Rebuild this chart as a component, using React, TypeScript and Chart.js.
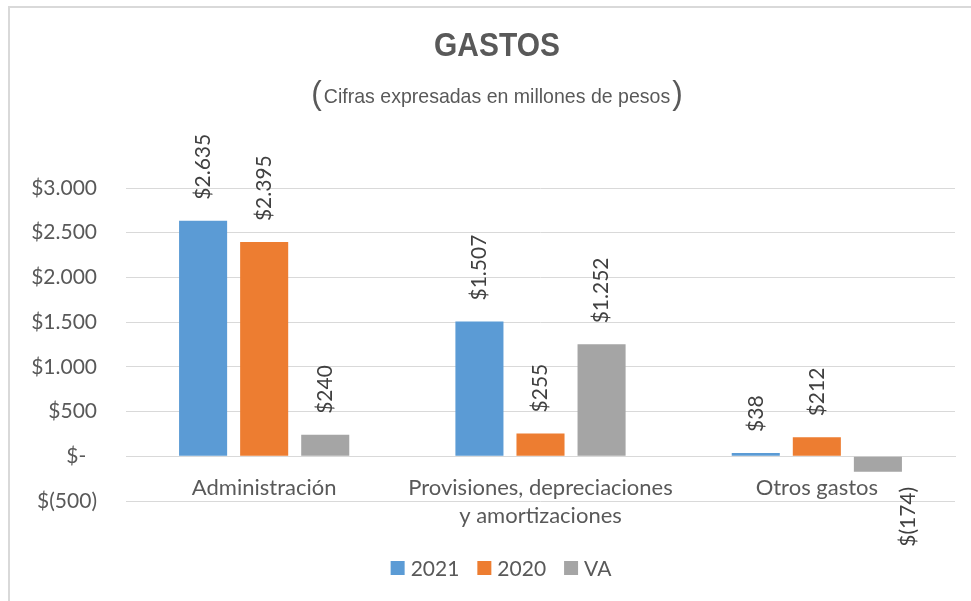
import React, { useEffect, useRef } from "react";
import { Chart, registerables } from "chart.js";

Chart.register(...registerables);

const TITLE = "GASTOS";
const SUBTITLE = "Cifras expresadas en millones de pesos";
const categories: (string | string[])[] = [
  "Administración",
  ["Provisiones, depreciaciones", "y amortizaciones"],
  "Otros gastos",
];
const seriesNames = ["2021", "2020", "VA"];
const values2021 = [2635, 1507, 38];
const values2020 = [2395, 255, 212];
const valuesVA = [240, 1252, -174];
const seriesColors = ["#5B9BD5", "#ED7D31", "#A5A5A5"];
const yMin = -500;
const yMax = 3000;
const yStep = 500;

const TEXT = "#595959";
const LABEL_FONT = "Lato, 'Open Sans', sans-serif";

function thousands(n: number): string {
  return Math.abs(n)
    .toFixed(0)
    .replace(/\B(?=(\d{3})+(?!\d))/g, ".");
}
function money(v: number): string {
  if (v === 0) return "$-";
  if (v < 0) return "$(" + thousands(v) + ")";
  return "$" + thousands(v);
}

const titlePlugin = {
  id: "titlesPlugin",
  afterDraw(chart: any) {
    const ctx = chart.ctx as CanvasRenderingContext2D;
    const cx = 497;
    ctx.save();
    ctx.fillStyle = TEXT;
    ctx.textBaseline = "middle";
    ctx.textAlign = "center";
    ctx.save();
    ctx.translate(cx, 47);
    ctx.scale(0.88, 1);
    ctx.font = "bold 34px 'Liberation Sans', Arial, sans-serif";
    ctx.fillText(TITLE, 0, 0);
    ctx.restore();

    const sx = 0.93;
    const subFont = "21px 'Liberation Sans', Arial, sans-serif";
    const parFont = "34px 'Liberation Sans', Arial, sans-serif";
    ctx.font = subFont;
    const w = ctx.measureText(SUBTITLE).width * sx;
    ctx.font = parFont;
    const pw = ctx.measureText("(").width * sx;
    const gap = 2;
    const total = w + 2 * pw + 2 * gap;
    let x = cx - total / 2;
    ctx.textAlign = "left";
    const put = (t: string, font: string, px: number, py: number) => {
      ctx.save();
      ctx.translate(px, py);
      ctx.scale(sx, 1);
      ctx.font = font;
      ctx.fillText(t, 0, 0);
      ctx.restore();
    };
    put("(", parFont, x, 95);
    x += pw + gap;
    put(SUBTITLE, subFont, x, 97);
    x += w + gap;
    put(")", parFont, x, 95);
    ctx.restore();
  },
};

const dataLabelPlugin = {
  id: "dataLabelPlugin",
  afterDatasetsDraw(chart: any) {
    const ctx = chart.ctx as CanvasRenderingContext2D;
    ctx.save();
    ctx.fillStyle = "#404040";
    ctx.font = "21px " + LABEL_FONT;
    ctx.textBaseline = "middle";
    chart.data.datasets.forEach((ds: any, i: number) => {
      const meta = chart.getDatasetMeta(i);
      meta.data.forEach((el: any, j: number) => {
        const v = ds.data[j] as number;
        const text = money(v);
        ctx.save();
        if (v >= 0) {
          ctx.translate(el.x, el.y - 21);
          ctx.rotate(-Math.PI / 2);
          ctx.textAlign = "left";
        } else {
          ctx.translate(el.x + 30, el.y + 15);
          ctx.rotate(-Math.PI / 2);
          ctx.textAlign = "right";
        }
        ctx.fillText(text, 0, 0);
        ctx.restore();
      });
    });
    ctx.restore();
  },
};

const legendPlugin = {
  id: "customLegend",
  afterDraw(chart: any) {
    const ctx = chart.ctx as CanvasRenderingContext2D;
    ctx.save();
    ctx.font = "21px " + LABEL_FONT;
    ctx.textBaseline = "middle";
    ctx.textAlign = "left";
    const box = 14;
    const gapText = 6;
    const gapItem = 18;
    const items = chart.data.datasets.map((ds: any) => ({
      label: ds.label as string,
      color: ds.backgroundColor as string,
      w: ctx.measureText(ds.label).width,
    }));
    const total =
      items.reduce((s: number, it: any) => s + box + gapText + it.w, 0) +
      gapItem * (items.length - 1);
    let x = 501 - total / 2;
    const cy = 568;
    items.forEach((it: any) => {
      ctx.fillStyle = it.color;
      ctx.fillRect(x, cy - box / 2, box, box);
      x += box + gapText;
      ctx.fillStyle = TEXT;
      ctx.fillText(it.label, x, cy + 1);
      x += it.w + gapItem;
    });
    ctx.restore();
  },
};

export default function App() {
  const canvasRef = useRef<HTMLCanvasElement | null>(null);

  useEffect(() => {
    if (!canvasRef.current) return;
    const chart = new Chart(canvasRef.current, {
      type: "bar",
      data: {
        labels: categories,
        datasets: [values2021, values2020, valuesVA].map((d, i) => ({
          label: seriesNames[i],
          data: d,
          backgroundColor: seriesColors[i],
          borderWidth: 0,
          categoryPercentage: 0.663,
          barPercentage: 0.787,
        })),
      },
      options: {
        responsive: false,
        animation: false,
        layout: { padding: { top: 188, right: 16, bottom: 100, left: 0 } },
        plugins: {
          legend: { display: false },
          title: { display: false },
          tooltip: { enabled: false },
        },
        scales: {
          x: {
            position: { y: 0 } as any,
            grid: { display: false, drawTicks: false },
            border: { display: true, color: "#D9D9D9", width: 1 },
            ticks: {
              color: TEXT,
              font: { family: LABEL_FONT, size: 22, lineHeight: 28 / 22 },
              padding: 18,
              autoSkip: false,
              maxRotation: 0,
              minRotation: 0,
            },
            afterFit: (s: any) => {
              s.height = 0;
            },
          },
          y: {
            min: yMin,
            max: yMax,
            grid: { color: "#D9D9D9", lineWidth: 1, drawTicks: false },
            border: { display: false },
            ticks: {
              stepSize: yStep,
              color: TEXT,
              font: { family: LABEL_FONT, size: 21 },
              padding: 29,
              callback: (v: any) => {
                const n = Number(v);
                if (n === 0) return "$-  ";
                return money(n);
              },
            },
            afterFit: (s: any) => {
              s.width = 126;
            },
          },
        },
      },
      plugins: [titlePlugin, dataLabelPlugin, legendPlugin],
    });
    return () => chart.destroy();
  }, []);

  return (
    <div style={{ position: "absolute", left: 0, top: 0, width: 971, height: 601, background: "#fff", overflow: "hidden" }}>
      <div
        style={{
          position: "absolute",
          left: 8,
          top: 6,
          width: 963,
          height: 595,
          borderTop: "2px solid #D9D9D9",
          borderLeft: "2px solid #D9D9D9",
          boxSizing: "border-box",
        }}
      />
      <canvas
        ref={canvasRef}
        width={971}
        height={601}
        style={{ position: "absolute", left: 0, top: 0, width: 971, height: 601 }}
      />
    </div>
  );
}
